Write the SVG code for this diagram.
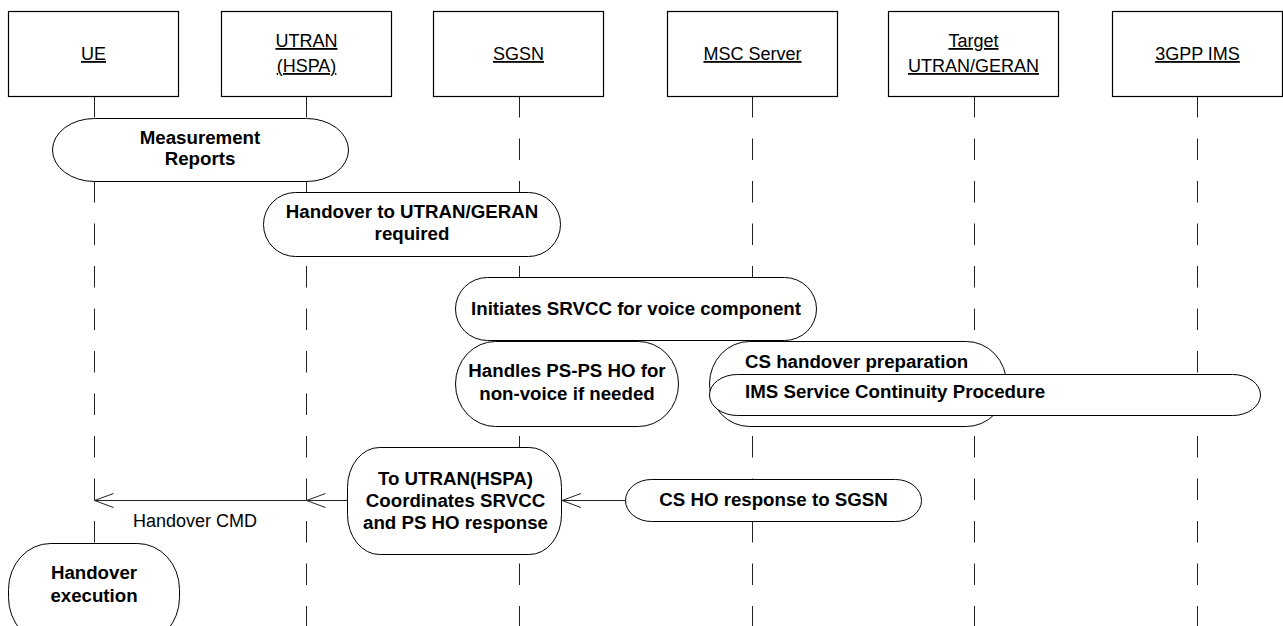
<svg xmlns="http://www.w3.org/2000/svg" width="1283" height="626" viewBox="0 0 1283 626">
<defs>
<style>
.box{fill:#fff;stroke:#000;stroke-width:1.2}
.life{stroke:#222;stroke-width:1;stroke-dasharray:21.5 21;fill:none}
.bub{fill:#fff;stroke:#000;stroke-width:1}
.lbl{font-family:"Liberation Sans",Arial,sans-serif;font-size:18px;text-anchor:middle;text-decoration:underline;fill:#000}
.bt{font-family:"Liberation Sans",Arial,sans-serif;font-size:18.7px;font-weight:bold;text-anchor:middle;fill:#000}
.btl{font-family:"Liberation Sans",Arial,sans-serif;font-size:18.7px;font-weight:bold;fill:#000}
.msg{font-family:"Liberation Sans",Arial,sans-serif;font-size:18px;fill:#000}
.arr{stroke:#222;stroke-width:1;fill:none}
</style>
<marker id="open" markerWidth="22" markerHeight="18" refX="20" refY="8" orient="auto" markerUnits="userSpaceOnUse">
<path d="M1,1 L20,8 L1,15" fill="none" stroke="#222" stroke-width="1"/>
</marker>
</defs>
<g id="ue">
<line class="life" x1="94.5" y1="96" x2="94.5" y2="626"/>
<rect class="box" x="8.5" y="11.5" width="170" height="85"/>
<text class="lbl" x="93.5" y="60">UE</text>
</g>
<g id="utran">
<line class="life" x1="306.5" y1="96" x2="306.5" y2="626"/>
<rect class="box" x="221.5" y="11.5" width="170" height="85"/>
<text class="lbl" x="306.5" y="47">UTRAN</text>
<text class="lbl" x="306.5" y="72">(HSPA)</text>
</g>
<g id="sgsn">
<line class="life" x1="519.5" y1="96" x2="519.5" y2="626"/>
<rect class="box" x="433.5" y="11.5" width="170" height="85"/>
<text class="lbl" x="518.5" y="60">SGSN</text>
</g>
<g id="msc">
<line class="life" x1="752.5" y1="96" x2="752.5" y2="626"/>
<rect class="box" x="667.5" y="11.5" width="170" height="85"/>
<text class="lbl" x="752.5" y="60">MSC Server</text>
</g>
<g id="target">
<line class="life" x1="974.5" y1="96" x2="974.5" y2="626"/>
<rect class="box" x="888.5" y="11.5" width="170" height="85"/>
<text class="lbl" x="973.5" y="47">Target</text>
<text class="lbl" x="973.5" y="72">UTRAN/GERAN</text>
</g>
<g id="ims">
<line class="life" x1="1197.5" y1="96" x2="1197.5" y2="626"/>
<rect class="box" x="1112.5" y="11.5" width="170" height="85"/>
<text class="lbl" x="1197.5" y="60">3GPP IMS</text>
</g>
<g id="connectors">
<path class="arr" d="M625,500.5 L562,500.5" marker-end="url(#open)"/>
<path class="arr" d="M348,500.5 L306.5,500.5" marker-end="url(#open)"/>
<path class="arr" d="M306.5,500.5 L94.5,500.5" marker-end="url(#open)"/>
<text class="msg" x="133" y="527">Handover CMD</text>
</g>
<g id="measurement">
<rect class="bub" x="52.5" y="118.5" width="296" height="63" rx="42" ry="31.5"/>
<text class="bt" x="200" y="144">Measurement</text>
<text class="bt" x="200" y="165">Reports</text>
</g>
<g id="ho-required">
<rect class="bub" x="263.5" y="192.5" width="297" height="64" rx="32" ry="32"/>
<text class="bt" x="412" y="218">Handover to UTRAN/GERAN</text>
<text class="bt" x="412" y="240">required</text>
</g>
<g id="srvcc">
<rect class="bub" x="455.5" y="277.5" width="361" height="63" rx="32" ry="31.5"/>
<text class="bt" x="636" y="315">Initiates SRVCC for voice component</text>
</g>
<g id="psps">
<rect class="bub" x="455.5" y="341.5" width="223" height="85" rx="40" ry="42.5"/>
<text class="bt" x="567" y="377">Handles PS-PS HO for</text>
<text class="bt" x="567" y="400">non-voice if needed</text>
</g>
<g id="cs-prep">
<rect class="bub" x="709.5" y="341.5" width="297" height="85" rx="40" ry="42.5"/>
<text class="btl" x="745" y="368">CS handover preparation</text>
</g>
<g id="ims-sc">
<rect class="bub" x="709.5" y="374.5" width="551" height="41" rx="28" ry="20.5"/>
<text class="btl" x="745" y="398">IMS Service Continuity Procedure</text>
</g>
<g id="sgsn-coord">
<rect class="bub" x="347.5" y="447.5" width="214" height="107" rx="32" ry="40"/>
<text class="bt" x="455.5" y="485">To UTRAN(HSPA)</text>
<text class="bt" x="455.5" y="507">Coordinates SRVCC</text>
<text class="bt" x="455.5" y="529">and PS HO response</text>
</g>
<g id="cs-ho-resp">
<rect class="bub" x="625.5" y="479.5" width="296" height="42" rx="26" ry="21"/>
<text class="bt" x="773.5" y="506">CS HO response to SGSN</text>
</g>
<g id="ho-exec">
<rect class="bub" x="8.5" y="543.5" width="171" height="100" rx="42" ry="46"/>
<text class="bt" x="94" y="579">Handover</text>
<text class="bt" x="94" y="602">execution</text>
</g>
</svg>
